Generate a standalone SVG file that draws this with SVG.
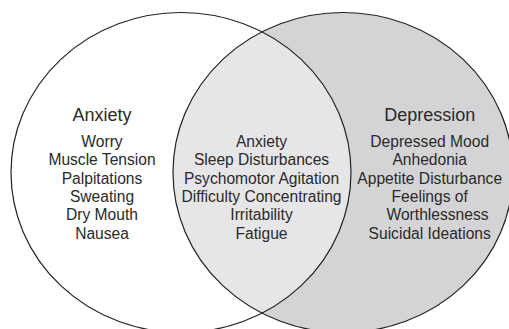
<svg xmlns="http://www.w3.org/2000/svg" width="509" height="329" viewBox="0 0 509 329">
<style>
.outline{fill:none;stroke:#222;stroke-width:1.2}
.title{font-family:"Liberation Sans",Arial,sans-serif;font-size:18px;fill:#2a2a2a;text-anchor:middle}
.item{font-family:"Liberation Sans",Arial,sans-serif;font-size:15.6px;fill:#2a2a2a;text-anchor:middle}
</style>
<defs>
<clipPath id="clipRight"><ellipse cx="343" cy="172.5" rx="170" ry="160"/></clipPath>
</defs>
<rect width="509" height="329" fill="#fff"/>
<g id="depression-set">
<ellipse cx="343" cy="172.5" rx="170" ry="160" fill="#d4d4d6"/>
</g>
<g id="overlap">
<ellipse cx="181" cy="172.5" rx="170" ry="160" fill="#e6e6e8" clip-path="url(#clipRight)"/>
</g>
<g id="outlines">
<ellipse class="outline" cx="181" cy="172.5" rx="170" ry="160"/>
<ellipse class="outline" cx="343" cy="172.5" rx="170" ry="160"/>
</g>
<g id="anxiety-text">
<text class="title" x="102" y="120.5">Anxiety</text>
<text class="item" x="102" y="147">Worry</text>
<text class="item" x="102" y="165.3">Muscle Tension</text>
<text class="item" x="102" y="183.6">Palpitations</text>
<text class="item" x="102" y="202">Sweating</text>
<text class="item" x="102" y="220.4">Dry Mouth</text>
<text class="item" x="102" y="238.8">Nausea</text>
</g>
<g id="overlap-text">
<text class="item" x="261.5" y="147">Anxiety</text>
<text class="item" x="261.5" y="165.3">Sleep Disturbances</text>
<text class="item" x="261.5" y="183.6">Psychomotor Agitation</text>
<text class="item" x="261.5" y="202">Difficulty Concentrating</text>
<text class="item" x="261.5" y="220.4">Irritability</text>
<text class="item" x="261.5" y="238.8">Fatigue</text>
</g>
<g id="depression-text">
<text class="title" x="429.7" y="120.5">Depression</text>
<text class="item" x="429.7" y="147">Depressed Mood</text>
<text class="item" x="429.7" y="165.3">Anhedonia</text>
<text class="item" x="429.7" y="183.6">Appetite Disturbance</text>
<text class="item" x="429.7" y="202">Feelings of</text>
<text class="item" x="437.5" y="220.4">Worthlessness</text>
<text class="item" x="429.7" y="238.8">Suicidal Ideations</text>
</g>
</svg>
